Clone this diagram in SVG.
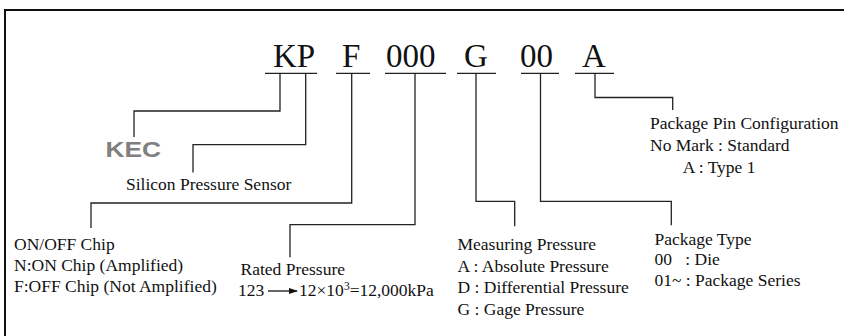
<svg xmlns="http://www.w3.org/2000/svg" width="844" height="336" viewBox="0 0 844 336">
<style>
text{font-family:"Liberation Serif","Times New Roman",serif;fill:#111}
.code{font-size:33px}
.lbl{font-size:17.5px}
.ln{fill:none;stroke:#222;stroke-width:1.3}
.ul{fill:none;stroke:#222;stroke-width:1.3}
</style>
<defs>
<marker id="ah" markerWidth="9" markerHeight="6" refX="8" refY="3" orient="auto" markerUnits="userSpaceOnUse">
<path d="M0,0 L9,3 L0,6 Z" fill="#111"/>
</marker>
</defs>
<rect x="5" y="10" width="860" height="340" fill="#fff" stroke="#111" stroke-width="2"/>

<g id="code">
<text class="code" x="273" y="66.5">KP</text>
<text class="code" x="342" y="66.5">F</text>
<text class="code" x="386" y="66.5">000</text>
<text class="code" x="464" y="66.5">G</text>
<text class="code" x="520" y="66.5">00</text>
<text class="code" x="582" y="66.5">A</text>
<path class="ul" d="M265,73.3H317M336,73.3H370M385,73.3H446M457,73.3H496M521,73.3H559M575,73.3H614"/>
</g>

<g id="connectors">
<path class="ln" d="M280,73.3V111H134V137"/>
<path class="ln" d="M305.7,73.3V144.7H193V172.5"/>
<path class="ln" d="M351.7,73.3V203H91V228"/>
<path class="ln" d="M415,73.3V224.7H290V257.3"/>
<path class="ln" d="M476,73.3V201.3H514.7V226.3"/>
<path class="ln" d="M540.5,73.3V201.3H671.3V225.3"/>
<path class="ln" d="M595,73.3V97.5H672.7V110"/>
</g>

<g id="kec">
<text x="105.5" y="156.7" textLength="55.5" lengthAdjust="spacingAndGlyphs" style="font-family:'Liberation Sans',Arial,sans-serif;font-weight:bold;font-size:21.5px;fill:#808080">KEC</text>
</g>

<g id="silicon">
<text class="lbl" x="126" y="189.7">Silicon Pressure Sensor</text>
</g>

<g id="onoff">
<text class="lbl" x="14" y="250">ON/OFF Chip</text>
<text class="lbl" x="14" y="271">N:ON Chip (Amplified)</text>
<text class="lbl" x="14" y="292">F:OFF Chip (Not Amplified)</text>
</g>

<g id="rated">
<text class="lbl" x="240.5" y="275">Rated Pressure</text>
<text class="lbl" x="238" y="296">123</text>
<line x1="268" y1="291" x2="297" y2="291" stroke="#111" stroke-width="1.3" marker-end="url(#ah)"/>
<text class="lbl" x="299" y="296">12×10<tspan dy="-6" font-size="11.5px">3</tspan><tspan dy="6">=12,000kPa</tspan></text>
</g>

<g id="measuring">
<text class="lbl" x="457.5" y="250">Measuring Pressure</text>
<text class="lbl" x="457.5" y="271.5">A : Absolute Pressure</text>
<text class="lbl" x="457.5" y="293">D : Differential Pressure</text>
<text class="lbl" x="457.5" y="314.5">G : Gage Pressure</text>
</g>

<g id="pkgtype">
<text class="lbl" x="654.5" y="245">Package Type</text>
<text class="lbl" x="654.5" y="265">00</text>
<text class="lbl" x="685.3" y="265">: Die</text>
<text class="lbl" x="654.5" y="286">01~ : Package Series</text>
</g>

<g id="pinconf">
<text class="lbl" x="650" y="129">Package Pin Configuration</text>
<text class="lbl" x="650" y="151">No Mark : Standard</text>
<text class="lbl" x="682.7" y="173">A : Type 1</text>
</g>
</svg>
